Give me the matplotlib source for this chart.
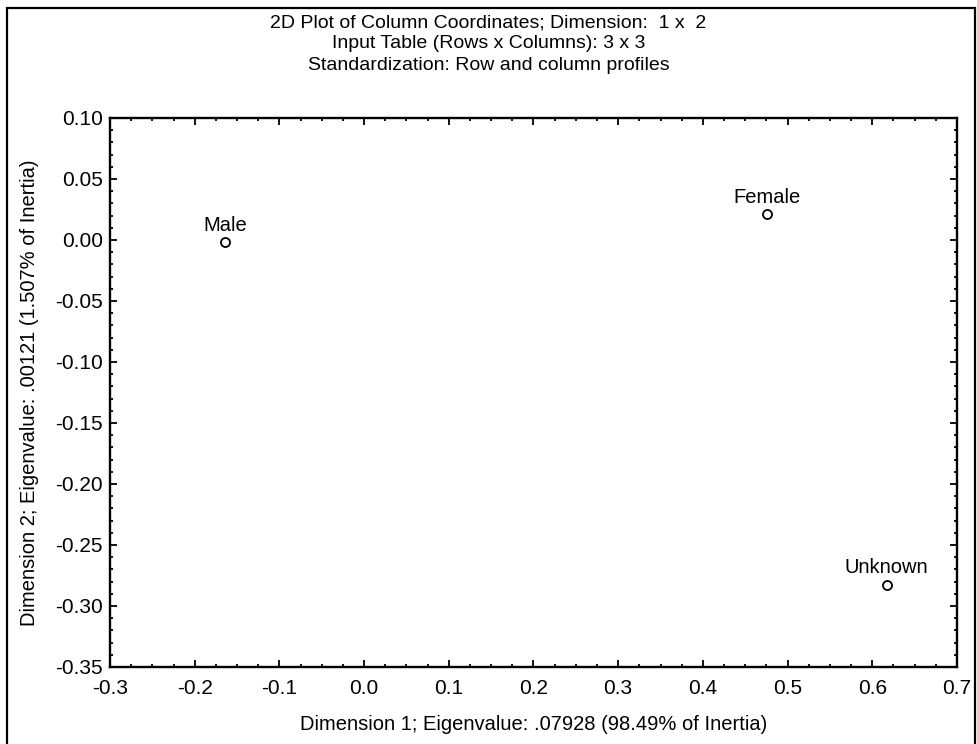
import matplotlib
matplotlib.use("Agg")
import matplotlib.pyplot as plt
from matplotlib.patches import Rectangle
from matplotlib.ticker import MultipleLocator, FormatStrFormatter

plt.rcParams['font.family'] = ['Liberation Sans', 'DejaVu Sans']
plt.rcParams['axes.unicode_minus'] = False

# column coordinates (dimension 1, dimension 2)
labels = ["Male", "Female", "Unknown"]
dim1 = [-0.164, 0.476, 0.617]
dim2 = [-0.002, 0.021, -0.283]

title_lines = [
    "2D Plot of Column Coordinates; Dimension:  1 x  2",
    "Input Table (Rows x Columns): 3 x 3",
    "Standardization: Row and column profiles",
]

fig = plt.figure(figsize=(9.77, 7.44), dpi=100)
ax = fig.add_axes([0.1126, 0.1035, 0.8669, 0.7379])

ax.plot(dim1, dim2, linestyle='none', marker='o', markersize=6.5,
        markerfacecolor='white', markeredgecolor='black', markeredgewidth=1.3)
for lab, x, y in zip(labels, dim1, dim2):
    ax.annotate(lab, (x, y), xytext=(0, 8.5), textcoords='offset points',
                ha='center', va='baseline', fontsize=14.5)

ax.set_xlim(-0.3, 0.7)
ax.set_ylim(-0.35, 0.10)
ax.xaxis.set_major_locator(MultipleLocator(0.1))
ax.xaxis.set_minor_locator(MultipleLocator(0.025))
ax.yaxis.set_major_locator(MultipleLocator(0.05))
ax.yaxis.set_minor_locator(MultipleLocator(0.01))
ax.xaxis.set_major_formatter(FormatStrFormatter('%.1f'))
ax.yaxis.set_major_formatter(FormatStrFormatter('%.2f'))
ax.tick_params(which='both', direction='in', top=True, right=True, width=1.3)
ax.tick_params(which='major', length=5, labelsize=15)
ax.tick_params(axis='x', which='major', pad=9)
ax.tick_params(axis='y', which='major', pad=5)
ax.tick_params(which='minor', length=2.5)
for s in ax.spines.values():
    s.set_linewidth(1.7)

ax.set_xlabel("Dimension 1; Eigenvalue: .07928 (98.49% of Inertia)", fontsize=14.5, labelpad=12)
ax.set_ylabel("Dimension 2; Eigenvalue: .00121 (1.507% of Inertia)", fontsize=14.5, labelpad=12)

for i, t in enumerate(title_lines):
    fig.text(0.5, 1 - (23 + i * 21) / 744, t, ha='center', va='center', fontsize=14)

# outer frame around the whole graph
fig.patches.append(Rectangle((7 / 977, -0.05), 968 / 977, 1.05 - 8 / 744,
                             transform=fig.transFigure, fill=False,
                             edgecolor='black', linewidth=1.6))

fig.savefig("out.png", dpi=100)
